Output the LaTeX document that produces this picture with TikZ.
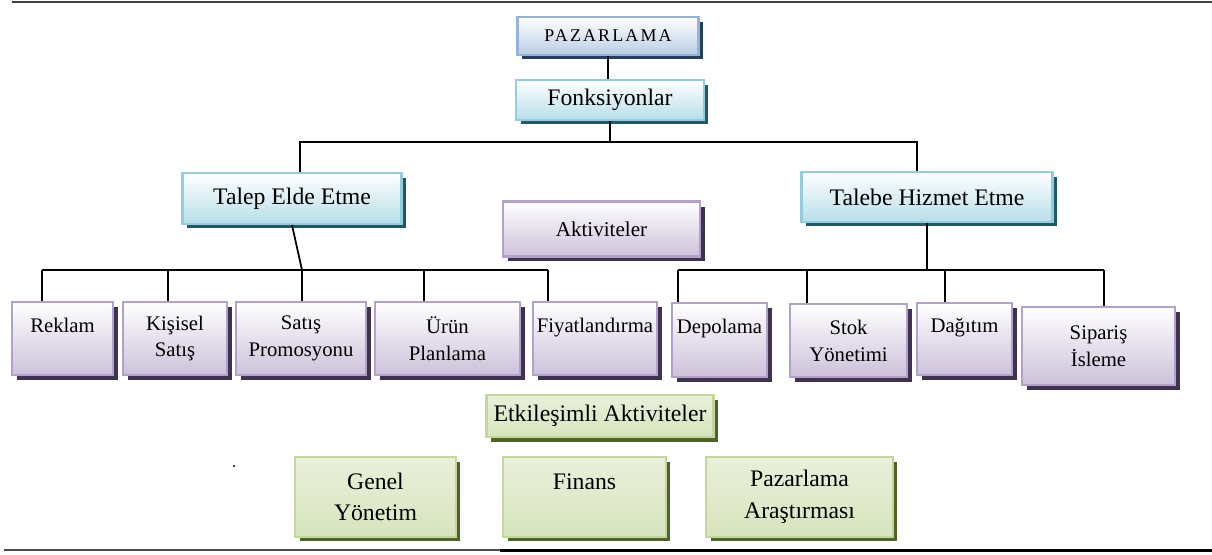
\documentclass[tikz,border=0pt]{standalone}
\usepackage{fontspec}
\setmainfont{Liberation Serif}
\newfontfamily\capsfont[LetterSpace=12]{Liberation Serif}
\usetikzlibrary{shadows}
\definecolor{blueline}{HTML}{95B3D7}
\definecolor{bluefill}{HTML}{B9CDE5}
\definecolor{blueshadow}{HTML}{243F60}
\definecolor{cyanline}{HTML}{93CDDD}
\definecolor{cyanfill}{HTML}{B7DEE8}
\definecolor{cyanshadow}{HTML}{215968}
\definecolor{purpleline}{HTML}{B3A2C7}
\definecolor{purplefill}{HTML}{CCC1DA}
\definecolor{purpleshadow}{HTML}{3F3151}
\definecolor{greenline}{HTML}{C3D69B}
\definecolor{greenfill}{HTML}{D7E4BD}
\definecolor{greenshadow}{HTML}{4F6228}
\begin{document}
\begin{tikzpicture}[x=0.02cm, y=-0.02cm,
  link/.style={draw=black, line width=1pt},
  box/.style={rectangle, line width=1.2pt, inner sep=2pt, align=center},
  bluebox/.style={box, draw=blueline, top color=white, bottom color=bluefill,
    drop shadow={shadow xshift=0.09cm, shadow yshift=-0.09cm, fill=blueshadow, opacity=1}},
  cyanbox/.style={box, draw=cyanline, top color=white, bottom color=cyanfill,
    drop shadow={shadow xshift=0.09cm, shadow yshift=-0.09cm, fill=cyanshadow, opacity=1},
    font=\fontsize{13.5}{16}\selectfont},
  purplebox/.style={box, draw=purpleline, top color=white, bottom color=purplefill,
    drop shadow={shadow xshift=0.1cm, shadow yshift=-0.1cm, fill=purpleshadow, opacity=1},
    font=\fontsize{11.8}{15.3}\selectfont},
  greenbox/.style={box, draw=greenline, top color=greenfill!55, bottom color=greenfill,
    drop shadow={shadow xshift=0.09cm, shadow yshift=-0.09cm, fill=greenshadow, opacity=1},
    font=\fontsize{13.5}{18}\selectfont}]
\useasboundingbox (0,0) rectangle (1212,554);
% page rules
\draw[black!75, line width=1.3pt] (12,2) -- (1212,2);
\draw[black!70, line width=0.6pt] (4,550) -- (500,550);
\draw[black, line width=1.3pt] (500,550.5) -- (1212,550.5);
\fill (234,466) circle[radius=0.6pt];
% top of the tree
\node[bluebox, minimum width=3.62cm, minimum height=0.76cm] (pazarlama) at (608,36)
  {\capsfont\fontsize{10.2}{12}\selectfont PAZARLAMA};
\node[cyanbox, minimum width=3.76cm, minimum height=0.80cm] (fonks) at (610,100) {Fonksiyonlar};
\node[cyanbox, minimum width=4.38cm, minimum height=1.02cm] (talep) at (292,198.5) {Talep Elde Etme};
\node[cyanbox, minimum width=5.02cm, minimum height=1.00cm] (talebe) at (927,197) {Talebe Hizmet Etme};
\node[purplebox, minimum width=3.94cm, minimum height=1.10cm, font=\fontsize{12}{15}\selectfont]
  (aktivite) at (601.5,229) {Aktiviteler};
% activities
\node[purplebox, minimum width=2.02cm, minimum height=1.46cm] (reklam) at (62.5,338.5) {Reklam\\~};
\node[purplebox, minimum width=2.08cm, minimum height=1.46cm] (kisisel) at (175,338.5) {Kişisel\\Satış};
\node[purplebox, minimum width=2.60cm, minimum height=1.46cm] (satis) at (301,338.5) {Satış\\Promosyonu};
\node[purplebox, minimum width=2.90cm, minimum height=1.46cm] (urun) at (447.5,338.5) {Ürün\\Planlama};
\node[purplebox, minimum width=2.48cm, minimum height=1.46cm] (fiyat) at (595,338.5) {Fiyatlandırma\\~};
\node[purplebox, minimum width=1.90cm, minimum height=1.48cm] (depolama) at (719.5,340) {Depolama\\~};
\node[purplebox, minimum width=2.34cm, minimum height=1.46cm] (stok) at (848.5,340.5) {Stok\\Yönetimi};
\node[purplebox, minimum width=1.90cm, minimum height=1.44cm] (dagitim) at (964.5,339) {Dağıtım\\~};
\node[purplebox, minimum width=3.06cm, minimum height=1.56cm] (siparis) at (1098.5,346) {Sipariş\\İsleme};
% interacting activities
\node[greenbox, minimum width=4.54cm, minimum height=0.84cm] (etkilesim) at (600,416) {Etkileşimli Aktiviteler};
\node[greenbox, minimum width=3.22cm, minimum height=1.60cm] (genel) at (375.5,497) {Genel\\Yönetim};
\node[greenbox, minimum width=3.26cm, minimum height=1.60cm] (finans) at (584.5,497) {Finans\\~};
\node[greenbox, minimum width=3.74cm, minimum height=1.60cm] (arastirma) at (799.5,497) {Pazarlama\\Araştırması};
% bus points
\coordinate (ttalep) at (300,142);
\coordinate (ttalebe) at (917,142);
\coordinate (lreklam) at (42,270);
\coordinate (lkisisel) at (168,270);
\coordinate (lsatis) at (302,270);
\coordinate (lurun) at (424,270);
\coordinate (lfiyat) at (548,270);
\coordinate (rdepolama) at (678,270);
\coordinate (rstok) at (807,270);
\coordinate (rdagitim) at (945,270);
\coordinate (rsiparis) at (1104,270);
% connectors
\draw[link] (pazarlama.south) -- (pazarlama.south |- fonks.north);
\draw[link] (fonks.south) -- (fonks.south |- ttalep);
\draw[link] (ttalep |- talep.north) -- (ttalep) -- (ttalebe) -- (ttalebe |- talebe.north);
\draw[link] (talep.south) -- (lsatis);
\draw[link] (lreklam) -- (lfiyat);
\draw[link] (lreklam) -- (lreklam |- reklam.north);
\draw[link] (lkisisel) -- (lkisisel |- kisisel.north);
\draw[link] (lsatis) -- (lsatis |- satis.north);
\draw[link] (lurun) -- (lurun |- urun.north);
\draw[link] (lfiyat) -- (lfiyat |- fiyat.north);
\draw[link] (talebe.south) -- (talebe.south |- rdepolama);
\draw[link] (rdepolama) -- (rsiparis);
\draw[link] (rdepolama) -- (rdepolama |- depolama.north);
\draw[link] (rstok) -- (rstok |- stok.north);
\draw[link] (rdagitim) -- (rdagitim |- dagitim.north);
\draw[link] (rsiparis) -- (rsiparis |- siparis.north);
\end{tikzpicture}
\end{document}
